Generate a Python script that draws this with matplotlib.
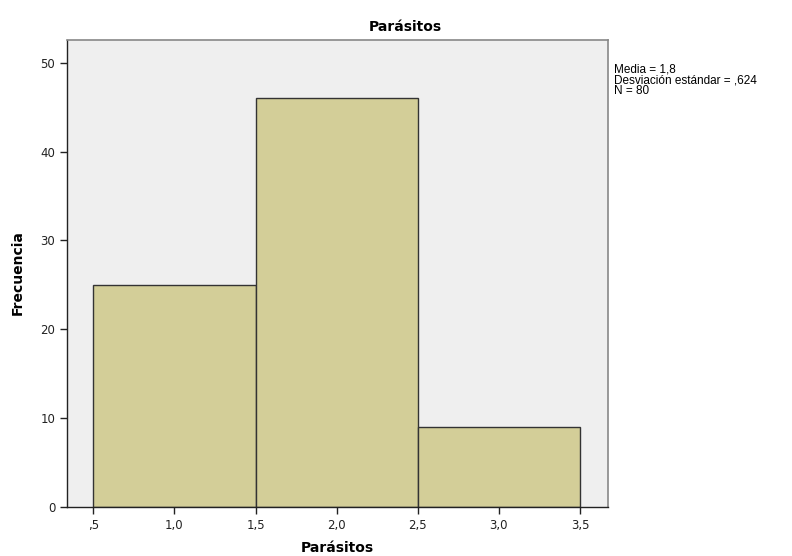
import matplotlib.pyplot as plt

bin_edges = [0.5, 1.5, 2.5, 3.5]
frecuencias = [25, 46, 9]
x_ticks = [0.5, 1.0, 1.5, 2.0, 2.5, 3.0, 3.5]
x_labels = [',5', '1,0', '1,5', '2,0', '2,5', '3,0', '3,5']
y_ticks = [0, 10, 20, 30, 40, 50]
stats = ['Media = 1,8', 'Desviación estándar = ,624', 'N = 80']

fig = plt.figure(figsize=(7.92, 5.56), dpi=100)
ax = fig.add_axes([0.0846, 0.0881, 0.6831, 0.8399])
ax.set_facecolor('#EFEFEF')

lefts = bin_edges[:-1]
widths = [b - a for a, b in zip(bin_edges[:-1], bin_edges[1:])]
ax.bar(lefts, frecuencias, width=widths, align='edge', color='#D3CE98',
       edgecolor='#333333', linewidth=1.0)

ax.set_xlim(0.338, 3.673)
ax.set_ylim(0, 52.55)
ax.set_xticks(x_ticks)
ax.set_xticklabels(x_labels)
ax.set_yticks(y_ticks)
ax.tick_params(direction='out', length=5, width=1, labelsize=8.5, colors='#222222')

for s in ['left', 'bottom']:
    ax.spines[s].set_color('#222222')
    ax.spines[s].set_linewidth(1.0)
for s in ['top', 'right']:
    ax.spines[s].set_color('#888888')
    ax.spines[s].set_linewidth(1.2)

fig.text(337 / 792, 1 - 548 / 556, 'Parásitos', ha='center', va='center',
         fontsize=10, fontweight='bold')
fig.text(18 / 792, 1 - 273 / 556, 'Frecuencia', ha='center', va='center',
         rotation=90, fontsize=10, fontweight='bold')
fig.text(405 / 792, 1 - 27 / 556, 'Parásitos', ha='center', va='center',
         fontsize=10, fontweight='bold')
fig.text(614 / 792, 1 - 63 / 556, '\n'.join(stats), ha='left', va='top',
         fontsize=8.5, linespacing=0.9, family='Liberation Sans')

fig.savefig('out.png', dpi=100)
